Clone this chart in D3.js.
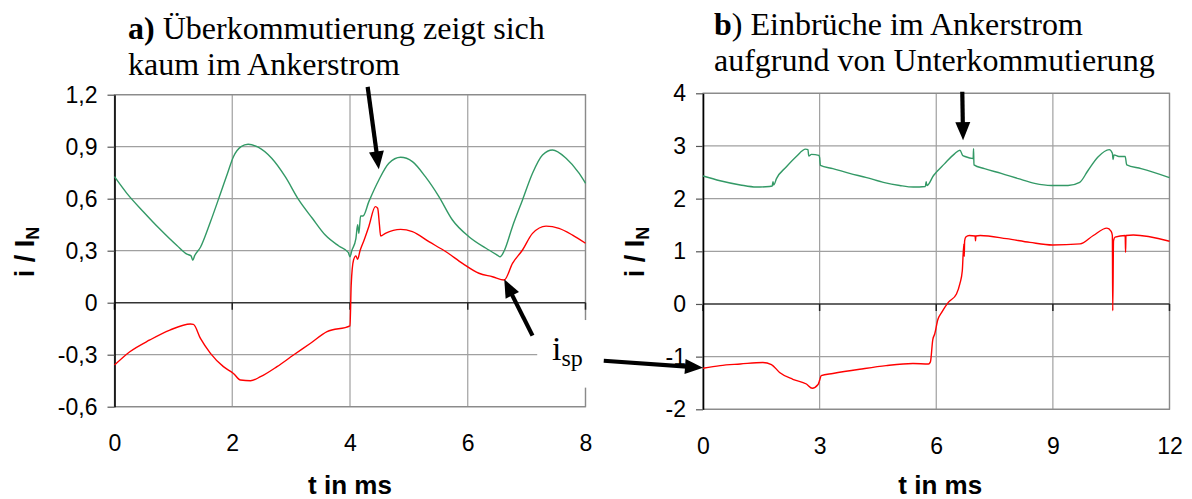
<!DOCTYPE html>
<html>
<head>
<meta charset="utf-8">
<script src="https://cdn.jsdelivr.net/npm/d3@7"></script>
<style>
  html, body { margin: 0; padding: 0; background: #fff; }
  svg { display: block; }
</style>
</head>
<body>
<svg id="chart" width="1192" height="499"></svg>
<script>
// ---- Panel a: time axis 0..8 ms ----
const xTicksA = [0, 2, 4, 6, 8];
const yTicksA = [-0.6, -0.3, 0, 0.3, 0.6, 0.9, 1.2];
const yLabelsA = ["-0,6", "-0,3", "0", "0,3", "0,6", "0,9", "1,2"];

// armature current (green), [t in ms, i/I_N]
const ankerA = [
  [0, 0.727], [0.21, 0.631], [0.49, 0.525], [0.77, 0.425], [1.06, 0.33],
  [1.23, 0.28], [1.30, 0.27], [1.33, 0.245], [1.36, 0.27], [1.46, 0.32],
  [1.63, 0.467], [1.80, 0.63], [1.92, 0.747], [2.02, 0.842], [2.15, 0.90],
  [2.27, 0.914], [2.44, 0.897], [2.67, 0.833], [2.90, 0.727], [3.13, 0.593],
  [3.36, 0.487], [3.58, 0.39], [3.81, 0.327], [3.97, 0.29], [4.0, 0.265],
  [4.03, 0.30], [4.10, 0.37], [4.13, 0.45], [4.15, 0.40], [4.18, 0.50],
  [4.22, 0.50], [4.32, 0.583], [4.49, 0.708], [4.66, 0.804], [4.86, 0.839],
  [5.06, 0.814], [5.28, 0.727], [5.51, 0.612], [5.74, 0.477], [6.02, 0.381],
  [6.31, 0.314], [6.50, 0.275], [6.55, 0.265], [6.62, 0.30], [6.76, 0.44],
  [6.93, 0.593], [7.10, 0.747], [7.27, 0.852], [7.44, 0.881], [7.67, 0.833],
  [7.89, 0.747], [8.0, 0.689]
];

// commutating-coil current i_sp (red)
const spuleA = [
  [0, -0.36], [0.26, -0.283], [0.60, -0.215], [0.94, -0.158], [1.29, -0.123],
  [1.34, -0.125], [1.46, -0.206], [1.63, -0.292], [1.85, -0.369], [2.02, -0.408],
  [2.14, -0.446], [2.31, -0.45], [2.48, -0.427], [2.76, -0.369], [3.04, -0.302],
  [3.33, -0.234], [3.61, -0.167], [4.0, -0.134], [4.02, 0.10], [4.06, 0.246],
  [4.10, 0.27], [4.13, 0.25], [4.17, 0.30], [4.24, 0.362], [4.32, 0.44],
  [4.43, 0.554], [4.47, 0.545], [4.50, 0.45], [4.52, 0.385], [4.60, 0.40],
  [4.86, 0.423], [5.06, 0.41], [5.34, 0.352], [5.63, 0.294], [5.91, 0.227],
  [6.19, 0.17], [6.42, 0.15], [6.62, 0.131], [6.76, 0.227], [6.93, 0.304],
  [7.10, 0.40], [7.33, 0.442], [7.55, 0.429], [7.78, 0.39], [8.0, 0.343]
];

// ---- Panel b: time axis 0..12 ms ----
const xTicksB = [0, 3, 6, 9, 12];
const yTicksB = [-2, -1, 0, 1, 2, 3, 4];
const yLabelsB = ["-2", "-1", "0", "1", "2", "3", "4"];

const ankerB = [
  [0, 2.43], [0.44, 2.34], [0.96, 2.26], [1.37, 2.22], [1.71, 2.23],
  [1.78, 2.24], [1.80, 2.32], [1.82, 2.26], [1.89, 2.38], [2.14, 2.60],
  [2.40, 2.80], [2.64, 2.94], [2.70, 2.93], [2.72, 2.81], [2.79, 2.84],
  [2.98, 2.82], [3.0, 2.78], [3.02, 2.63], [3.34, 2.57], [3.77, 2.48],
  [4.21, 2.40], [4.64, 2.31], [5.06, 2.25], [5.41, 2.22], [5.72, 2.23],
  [5.74, 2.32], [5.76, 2.25], [5.93, 2.44], [6.21, 2.66], [6.47, 2.85],
  [6.61, 2.92], [6.68, 2.82], [6.74, 2.80], [6.95, 2.76], [6.96, 2.95],
  [6.97, 2.64], [7.24, 2.57], [7.67, 2.48], [8.11, 2.38], [8.53, 2.29],
  [8.96, 2.25], [9.39, 2.25], [9.69, 2.31], [9.90, 2.53], [10.16, 2.79],
  [10.45, 2.93], [10.53, 2.86], [10.55, 2.74], [10.57, 2.83], [10.70, 2.80],
  [10.86, 2.80], [10.90, 2.64], [11.27, 2.57], [11.96, 2.41], [12, 2.40]
];

const spuleB = [
  [0, -1.22], [0.44, -1.17], [0.96, -1.14], [1.54, -1.11], [1.76, -1.15],
  [1.97, -1.30], [2.31, -1.43], [2.66, -1.52], [2.81, -1.60], [2.96, -1.53],
  [3.0, -1.45], [3.04, -1.36], [3.34, -1.32], [4.03, -1.24], [4.71, -1.17],
  [5.40, -1.13], [5.80, -1.14], [5.85, -1.10], [5.91, -0.68], [5.96, -0.57],
  [6.04, -0.30], [6.14, -0.16], [6.31, 0.03], [6.52, 0.19], [6.61, 0.39],
  [6.67, 0.63], [6.71, 1.14], [6.72, 0.90], [6.73, 1.20], [6.76, 1.27],
  [6.85, 1.30], [7.0, 1.29], [7.01, 1.20], [7.02, 1.29], [7.13, 1.30],
  [7.81, 1.24], [8.41, 1.17], [8.99, 1.12], [9.70, 1.14], [10.04, 1.30],
  [10.39, 1.44], [10.50, 1.38], [10.53, 1.30], [10.54, -0.13], [10.56, 1.20],
  [10.60, 1.27], [10.86, 1.30], [10.87, 0.98], [10.88, 1.30], [11.07, 1.31],
  [12, 1.19]
];

const GREEN = "#339966";
const RED = "#ff0000";
const GRID = "#a0a0a0";

const svg = d3.select("#chart");
svg.append("rect").attr("width", 1192).attr("height", 499).attr("fill", "#fff");

function drawPanel(p) {
  const g = svg.append("g");
  const x = d3.scaleLinear().domain([p.xTicks[0], p.xTicks[p.xTicks.length - 1]]).range(p.xRange);
  const y = d3.scaleLinear().domain([p.yTicks[0], p.yTicks[p.yTicks.length - 1]]).range(p.yRange);
  const [x0, x1] = p.xRange;
  const [yb, yt] = p.yRange;

  // horizontal grid
  g.append("g").selectAll("line").data(p.yTicks.filter(v => v !== 0)).join("line")
    .attr("x1", x0).attr("x2", x1)
    .attr("y1", d => y(d)).attr("y2", d => y(d))
    .attr("stroke", GRID).attr("stroke-width", 1.2);
  // vertical grid
  g.append("g").selectAll("line").data(p.xTicks.slice(1)).join("line")
    .attr("x1", d => x(d)).attr("x2", d => x(d))
    .attr("y1", yt).attr("y2", yb)
    .attr("stroke", GRID).attr("stroke-width", 1.2);
  // plot frame
  g.append("rect").attr("x", x0).attr("y", yt).attr("width", x1 - x0).attr("height", yb - yt)
    .attr("fill", "none").attr("stroke", "#8a8a8a").attr("stroke-width", 1.3);

  // zero line with tick marks below it
  g.append("line").attr("x1", x0).attr("x2", x1).attr("y1", y(0)).attr("y2", y(0))
    .attr("stroke", "#333").attr("stroke-width", 1.5);
  g.append("g").selectAll("line").data(p.xTicks).join("line")
    .attr("x1", d => x(d)).attr("x2", d => x(d))
    .attr("y1", y(0)).attr("y2", y(0) + 7)
    .attr("stroke", "#222").attr("stroke-width", 1.5);

  // y axis
  const ya = g.append("g").attr("transform", `translate(${x0},0)`)
    .call(d3.axisLeft(y).tickValues(p.yTicks).tickFormat((d, i) => p.yLabels[i])
      .tickSize(7).tickPadding(10).tickSizeOuter(0));
  ya.select(".domain").attr("stroke", "#000").attr("stroke-width", 1.6);
  ya.selectAll(".tick line").attr("stroke", "#555").attr("stroke-width", 1.2);
  ya.selectAll("text").attr("font-family", "Liberation Sans, Arial, sans-serif")
    .attr("font-size", 23).attr("fill", "#000");

  // x tick labels under the plot
  const xa = g.append("g").attr("transform", `translate(0,${yb})`)
    .call(d3.axisBottom(x).tickValues(p.xTicks).tickFormat(d3.format("d"))
      .tickSize(0).tickPadding(28));
  xa.select(".domain").remove();
  xa.selectAll("text").attr("font-family", "Liberation Sans, Arial, sans-serif")
    .attr("font-size", 23).attr("fill", "#000");

  // axis titles
  g.append("text").attr("x", (x0 + x1) / 2 - p.xTitleShift).attr("y", 494)
    .attr("text-anchor", "middle")
    .attr("font-family", "Liberation Sans, Arial, sans-serif")
    .attr("font-weight", "bold").attr("font-size", 26).text("t in ms");

  const yt2 = g.append("text")
    .attr("transform", `translate(${p.yTitleX},252) rotate(-90)`)
    .attr("text-anchor", "middle")
    .attr("font-family", "Liberation Sans, Arial, sans-serif")
    .attr("font-weight", "bold").attr("font-size", 27);
  yt2.append("tspan").text("i / I");
  yt2.append("tspan").attr("font-size", 18).attr("dy", 5).text("N");

  // curves
  const line = d3.line().x(d => x(d[0])).y(d => y(d[1])).curve(d3.curveMonotoneX);
  g.append("path").datum(p.green).attr("d", line)
    .attr("fill", "none").attr("stroke", GREEN).attr("stroke-width", 1.4)
    .attr("stroke-linejoin", "round");
  g.append("path").datum(p.red).attr("d", line)
    .attr("fill", "none").attr("stroke", RED).attr("stroke-width", 1.4)
    .attr("stroke-linejoin", "round");

  // title
  const tt = g.append("text").attr("font-family", "Liberation Serif, Times New Roman, serif")
    .attr("font-size", 32).attr("fill", "#000");
  tt.append("tspan").attr("x", p.titleX).attr("y", p.titleY)
    .attr("font-weight", "bold").text(p.title[0]);
  tt.append("tspan").text(p.title[1]);
  tt.append("tspan").attr("x", p.titleX).attr("y", p.titleY + 36).text(p.title[2]);

  return { x, y };
}

const A = drawPanel({
  xTicks: xTicksA, yTicks: yTicksA, yLabels: yLabelsA,
  xRange: [114.5, 585.5], yRange: [406.7, 94.7],
  green: ankerA, red: spuleA,
  yTitleX: 34, xTitleShift: 0,
  titleX: 128, titleY: 39,
  title: ["a)", " Überkommutierung zeigt sich", "kaum im Ankerstrom"]
});

const B = drawPanel({
  xTicks: xTicksB, yTicks: yTicksB, yLabels: yLabelsB,
  xRange: [703, 1169.5], yRange: [409.3, 93.3],
  green: ankerB, red: spuleB,
  yTitleX: 644, xTitleShift: -4,
  titleX: 714, titleY: 35,
  title: ["b", ") Einbrüche im Ankerstrom", "aufgrund von Unterkommutierung"]
});

// ---- annotations ----
// label box for i_sp (covers grid and frame)
const boxTL = [A.x(7.18), A.y(-0.10)];
const boxBR = [A.x(8.28), A.y(-0.49)];
svg.append("rect").attr("x", boxTL[0]).attr("y", boxTL[1])
  .attr("width", boxBR[0] - boxTL[0]).attr("height", boxBR[1] - boxTL[1]).attr("fill", "#fff");

const lbl = svg.append("text").attr("x", A.x(7.43)).attr("y", A.y(-0.33))
  .attr("font-family", "Liberation Serif, Times New Roman, serif").attr("font-size", 34);
lbl.append("tspan").text("i");
lbl.append("tspan").attr("font-size", 24).attr("dy", 6).text("sp");

function arrow(from, to) {
  const dx = to[0] - from[0], dy = to[1] - from[1];
  const len = Math.hypot(dx, dy);
  const ux = dx / len, uy = dy / len;
  const headLen = 18, headW = 7.5;
  const bx = to[0] - ux * headLen, by = to[1] - uy * headLen;
  svg.append("line").attr("x1", from[0]).attr("y1", from[1])
    .attr("x2", bx + ux * 2).attr("y2", by + uy * 2)
    .attr("stroke", "#000").attr("stroke-width", 4.2);
  svg.append("path")
    .attr("d", `M${to[0]},${to[1]} L${bx - uy * headW},${by + ux * headW} L${bx + uy * headW},${by - ux * headW} Z`)
    .attr("fill", "#000");
}

arrow([A.x(4.30), A.y(1.245)], [A.x(4.49), A.y(0.77)]);
arrow([A.x(7.10), A.y(-0.19)], [A.x(6.62), A.y(0.135)]);
arrow([A.x(8.31), A.y(-0.335)], [B.x(0), B.y(-1.21)]);
arrow([B.x(6.67), B.y(4.03)], [B.x(6.69), B.y(3.11)]);
</script>
</body>
</html>
